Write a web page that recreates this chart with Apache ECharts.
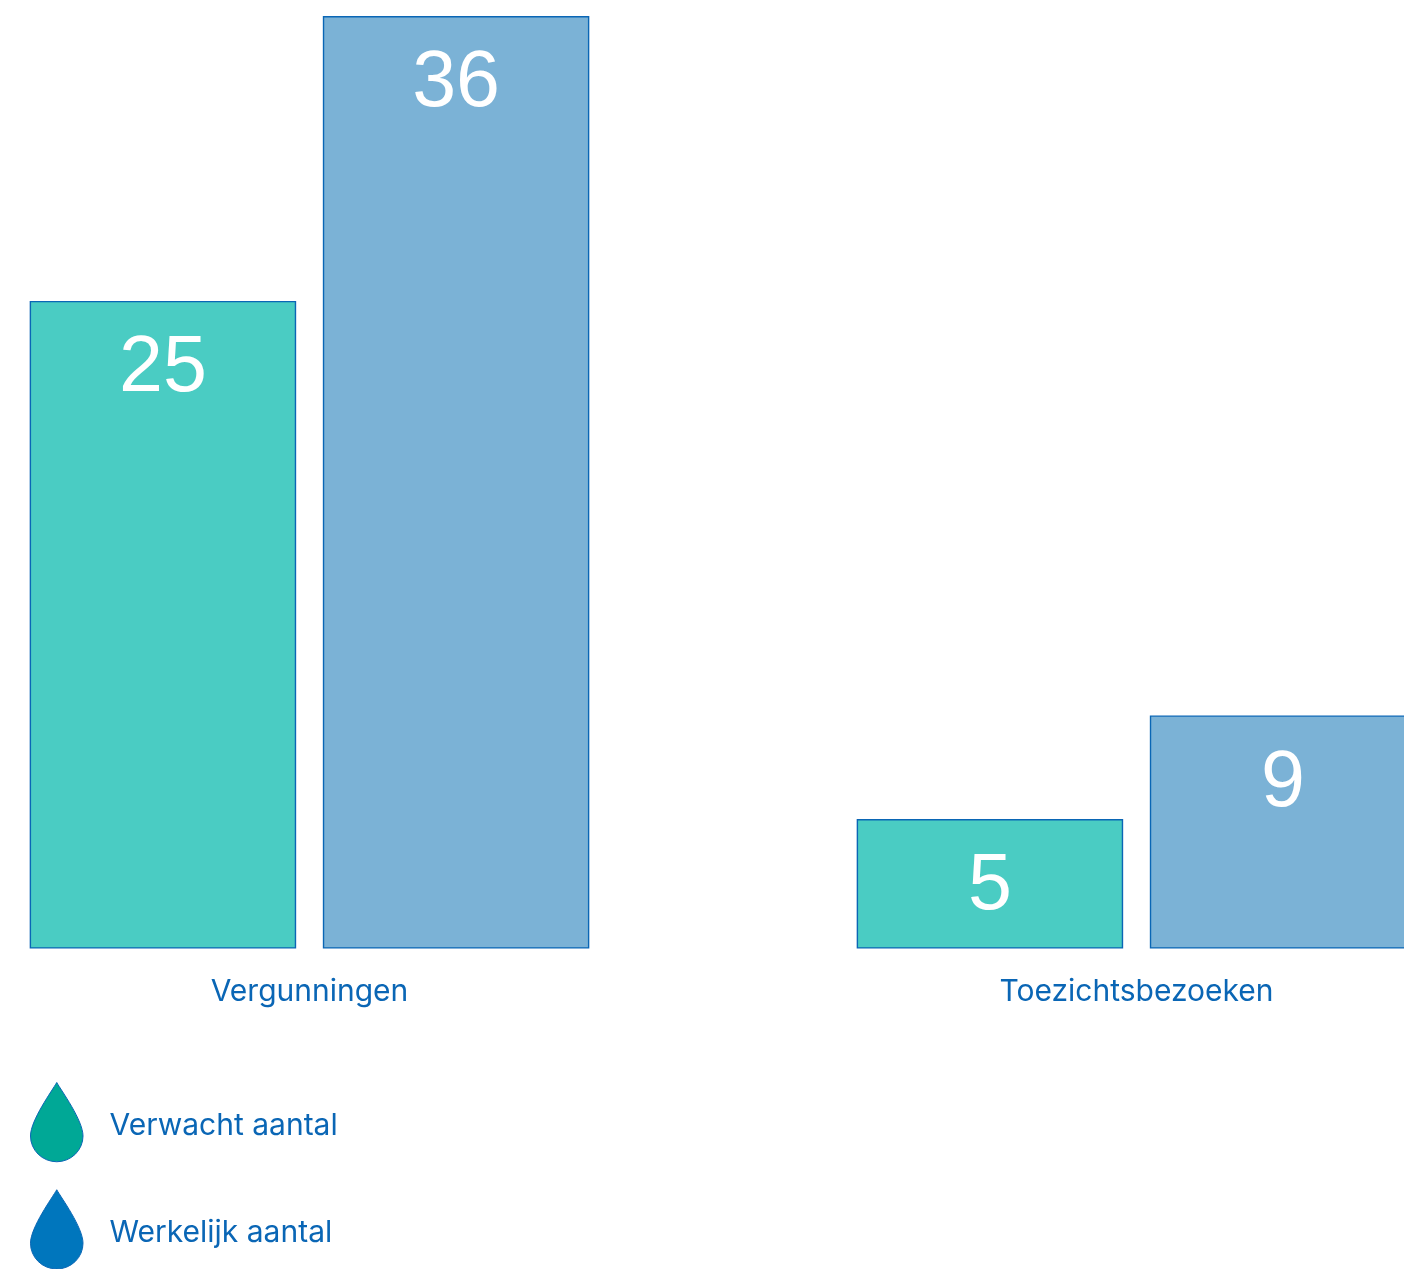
<!DOCTYPE html>
<html>
<head>
<meta charset="utf-8">
<style>html,body{margin:0;padding:0;background:#fff}#c{width:1404px;height:1269px}</style>
<script src="https://cdn.jsdelivr.net/npm/echarts@6/dist/echarts.min.js"></script>
</head>
<body>
<div id="c"></div>
<script>
const categories = ['Vergunningen', 'Toezichtsbezoeken'];
const seriesNames = ['Verwacht aantal', 'Werkelijk aantal'];
const expected = [25, 5];
const actual = [36, 9];

const DROP = 'path://M26.5 0C31 8 53 38 53 54A26.5 26 0 0 1 0 54C0 38 22 8 26.5 0Z';
const BORDER = '#0A66B5';
const labelStyle = {show: true, position: 'insideTop', distance: 29, color: '#fff', fontFamily: 'Liberation Sans', fontSize: 79};
const chart = echarts.init(document.getElementById('c'), null, {renderer: 'canvas'});
chart.setOption({
  animation: false,
  backgroundColor: '#fff',
  grid: {left: -104, top: 16, width: 1654, height: 932.6, containLabel: false, outerBoundsMode: 'none'},
  legend: {
    left: 30, bottom: -0.5, orient: 'vertical', itemWidth: 52.5, itemHeight: 79.5, itemGap: 27, padding: 0,
    selectedMode: false,
    formatter: '{s|}{t|{name}}',
    textStyle: {
      color: BORDER, fontFamily: 'Inter', fontSize: 30, padding: [0, 0, 0, 21.5],
      rich: {
        s: {height: 38, width: 0, fontSize: 30},
        t: {color: BORDER, fontFamily: 'Inter', fontSize: 30, lineHeight: 32, verticalAlign: 'bottom'}
      }
    },
    data: [
      {name: seriesNames[0], icon: DROP, itemStyle: {color: '#00A896', borderColor: BORDER, borderWidth: 1}},
      {name: seriesNames[1], icon: DROP, itemStyle: {color: '#0076BD', borderColor: BORDER, borderWidth: 1}}
    ]
  },
  xAxis: {
    type: 'category', data: categories,
    axisLine: {show: false}, axisTick: {show: false},
    axisLabel: {color: BORDER, fontFamily: 'Inter', fontSize: 30, margin: 28}
  },
  yAxis: {type: 'value', min: 0, max: 36, show: false},
  series: [
    {name: seriesNames[0], type: 'bar', data: expected, barWidth: 266.5, barGap: '10%',
      itemStyle: {color: '#4ACCC3', borderColor: BORDER, borderWidth: 1.4}, label: labelStyle},
    {name: seriesNames[1], type: 'bar', data: actual, barWidth: 266.5,
      itemStyle: {color: '#7BB2D6', borderColor: BORDER, borderWidth: 1.4}, label: labelStyle}
  ]
});
</script>
</body>
</html>
